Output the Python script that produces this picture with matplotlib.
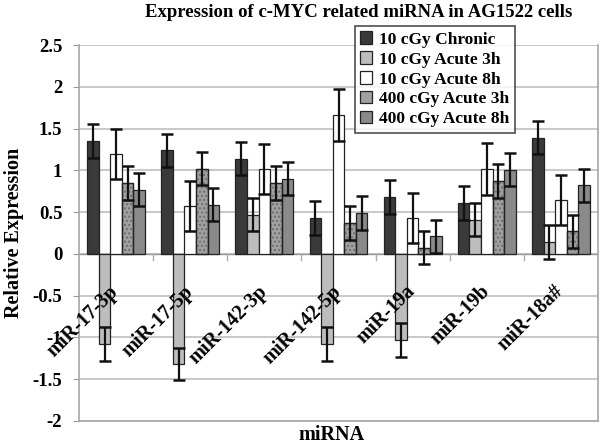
import matplotlib
matplotlib.use("Agg")
import matplotlib.pyplot as plt
import numpy as np

categories = ["miR-17-3p", "miR-17-5p", "miR-142-3p", "miR-142-5p", "miR-19a", "miR-19b", "miR-18a#"]
series_names = ["10 cGy Chronic", "10 cGy Acute 3h", "10 cGy Acute 8h", "400 cGy Acute 3h", "400 cGy Acute 8h"]

chronic_10 = [1.35, 1.24, 1.14, 0.43, 0.68, 0.61, 1.39]
acute3h_10 = [-1.08, -1.32, 0.47, -1.08, -1.03, 0.41, 0.14]
acute8h_10 = [1.20, 0.57, 1.02, 1.66, 0.43, 1.02, 0.64]
acute3h_400 = [0.85, 1.02, 0.85, 0.37, 0.075, 0.87, 0.27]
acute8h_400 = [0.77, 0.59, 0.90, 0.49, 0.21, 1.01, 0.82]

err_chronic_10 = [0.20, 0.20, 0.20, 0.20, 0.20, 0.20, 0.20]
err_acute3h_10 = [0.20, 0.19, 0.20, 0.20, 0.20, 0.20, 0.20]
err_acute8h_10 = [0.30, 0.30, 0.30, 0.31, 0.30, 0.31, 0.30]
err_acute3h_400 = [0.20, 0.20, 0.20, 0.20, 0.20, 0.20, 0.20]
err_acute8h_400 = [0.20, 0.20, 0.20, 0.20, 0.20, 0.20, 0.20]

y_ticks = [2.5, 2, 1.5, 1, 0.5, 0, -0.5, -1, -1.5, -2]
y_tick_labels = ["2.5", "2", "1.5", "1", "0.5", "0", "-0.5", "-1", "-1.5", "-2"]

values = [chronic_10, acute3h_10, acute8h_10, acute3h_400, acute8h_400]
errors = [err_chronic_10, err_acute3h_10, err_acute8h_10, err_acute3h_400, err_acute8h_400]
colors = ["#3a3a3a", "#bdbdbd", "#ffffff", "#a0a0a0", "#8a8a8a"]
hatches = [None, None, None, "....", None]

plt.rcParams["font.family"] = ["Liberation Serif", "DejaVu Serif"]
plt.rcParams["font.weight"] = "bold"

fig = plt.figure(figsize=(6.0, 4.47), dpi=100)
ax = fig.add_axes([0.1317, 0.0582, 0.8650, 0.8411])

n = len(values)
x = np.arange(len(categories))
total_w = 0.78
w = total_w / n
for i, (vals, errs, col, h) in enumerate(zip(values, errors, colors, hatches)):
    pos = x - total_w / 2 + w * (i + 0.5)
    ax.bar(pos, vals, width=w, color=col, edgecolor="#222222", linewidth=0.9,
           label=series_names[i], zorder=3)
    if h:
        ax.bar(pos, vals, width=w, color="none", edgecolor="#6e6e6e", linewidth=0,
               hatch=h, zorder=3.5)
        ax.bar(pos, vals, width=w, color="none", edgecolor="#222222", linewidth=0.9, zorder=3.6)
    ax.errorbar(pos, vals, yerr=errs, fmt="none", ecolor="#111111", elinewidth=1.6,
                capsize=4, capthick=1.8, zorder=4)

ax.set_xlim(-0.5, len(categories) - 0.5)
ax.set_ylim(-2, 2.5)
ax.set_yticks(y_ticks)
ax.set_yticklabels(y_tick_labels, fontsize=13.5, fontweight="bold")
ax.yaxis.grid(True, color="#bfbfbf", linewidth=1.2, zorder=0)
ax.set_axisbelow(True)
ax.tick_params(axis="y", length=4, color="#999999", pad=8)
ax.axhline(0, color="#999999", linewidth=1.0, zorder=2)

ax.set_xticks([])
for k in range(1, len(categories)):
    ax.plot([k - 0.5, k - 0.5], [0, -0.07], color="#aaaaaa", linewidth=1, zorder=2)

for k, c in enumerate(categories):
    ax.text(k - 0.1, -0.33, c, rotation=45, rotation_mode="anchor", ha="right", va="top",
            fontsize=14.5, fontweight="bold", zorder=5)

for s in ["left", "bottom", "right"]:
    ax.spines[s].set_color("#a6a6a6")
    ax.spines[s].set_linewidth(1.2)
ax.spines["top"].set_visible(False)

ax.set_ylabel("Relative Expression", fontsize=14.5, fontweight="bold", labelpad=6)
ax.set_xlabel("miRNA", fontsize=14.5, fontweight="bold")
ax.xaxis.set_label_coords(0.486, -0.012, transform=ax.transAxes)
fig.suptitle("Expression of c-MYC related miRNA in AG1522 cells", fontsize=13.5,
             fontweight="bold", x=0.597, y=0.99)

leg = ax.legend(loc="upper left", bbox_to_anchor=(0.532, 1.05),
                frameon=True, fancybox=False, edgecolor="#222222", handlelength=0.7,
                handleheight=0.7, handletextpad=0.4, labelspacing=0.22, borderpad=0.3,
                borderaxespad=0, prop={"weight": "bold", "size": 12.5})
leg.get_frame().set_linewidth(1.2)
leg.set_zorder(10)

fig.savefig("out.png", dpi=100)
